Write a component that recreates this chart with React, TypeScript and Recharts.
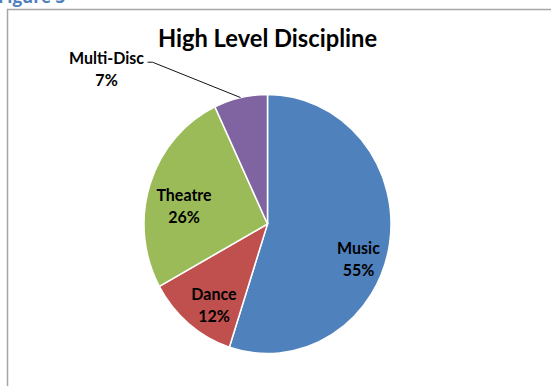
import React from "react";
import { PieChart, Pie, Cell } from "recharts";

const categories = ["Music", "Dance", "Theatre", "Multi-Disc"];
const shares = [55, 12, 26, 7];
const sliceColors = ["#4F81BD", "#C0504D", "#9BBB59", "#8064A2"];
const chartTitle = "High Level Discipline";
const figureCaption = "Figure 3";

const data = categories.map((name, i) => ({ name, value: shares[i] }));

const W = 551;
const H = 386;
const CX = 267.5;
const CY = 224;
const R = 123.5;
const STRETCH = 1.049;
const FONT = "Lato, 'Open Sans', sans-serif";
const LABEL_SIZE = 16;
const LINE_GAP = 21;

// label placement tweaks relative to polar point at 0.75 * radius
const insideOffsets: Record<string, [number, number]> = {
  Music: [-0.5, 18],
  Dance: [5.5, 5],
  Theatre: [4.6, 11],
};

const RAD = Math.PI / 180;

function renderLabel(props: any) {
  const { cx, cy, midAngle, outerRadius, name, value } = props;
  const cos = Math.cos(-midAngle * RAD);
  const sin = Math.sin(-midAngle * RAD);
  const pct = `${value}%`;
  const textProps = {
    fontFamily: FONT,
    fontWeight: 700,
    fontSize: LABEL_SIZE,
    fill: "#000",
    textAnchor: "middle" as const,
    dominantBaseline: "central" as const,
  };
  if (insideOffsets[name]) {
    const [ox, oy] = insideOffsets[name];
    const x = cx + outerRadius * 0.75 * cos + ox;
    const y = cy + outerRadius * 0.75 * sin + oy;
    return (
      <g key={name}>
        <text x={x} y={y - LINE_GAP / 2} {...textProps}>{name}</text>
        <text x={x} y={y + LINE_GAP / 2} {...textProps}>{pct}</text>
      </g>
    );
  }
  const ex = cx + outerRadius * cos;
  const ey = cy + outerRadius * sin;
  const bx = ex - 88;
  const by = ey - 33.7;
  const tx = bx - 46;
  return (
    <g key={name}>
      <polyline
        points={`${ex},${ey} ${bx},${by} ${bx - 5},${by}`}
        fill="none"
        stroke="#000"
        strokeWidth={0.9}
      />
      <text x={tx} y={by - 5} {...textProps}>{name}</text>
      <text x={tx} y={by - 5 + LINE_GAP} {...textProps}>{pct}</text>
    </g>
  );
}

export default function App() {
  return (
    <div
      style={{
        position: "fixed",
        left: 0,
        top: 0,
        width: W,
        height: H,
        overflow: "hidden",
        background: "#fff",
      }}
    >
      <svg width={W} height={H} style={{ position: "absolute", left: 0, top: 0 }}>
        <rect x={7.5} y={9.5} width={W + 20} height={H + 20} fill="none" stroke="#A6A6A6" strokeWidth={1.5} />
        <text x={-2} y={3} fontFamily="'Open Sans', sans-serif" fontWeight={700} fontSize={17} fill="#4F81BD">
          {figureCaption}
        </text>
      </svg>
      <div
        style={{
          position: "absolute",
          left: 0,
          top: 0,
          width: W,
          height: H,
          transform: `scaleY(${STRETCH})`,
          transformOrigin: `0px ${CY}px`,
        }}
      >
        <PieChart width={W} height={H} margin={{ top: 0, right: 0, bottom: 0, left: 0 }}>
          <Pie
            data={data}
            dataKey="value"
            nameKey="name"
            cx={CX}
            cy={CY}
            outerRadius={R}
            startAngle={90}
            endAngle={-270}
            stroke="#fff"
            strokeWidth={1.5}
            label={renderLabel}
            labelLine={false}
            isAnimationActive={false}
          >
            {data.map((d, i) => (
              <Cell key={d.name} fill={sliceColors[i]} />
            ))}
          </Pie>
        </PieChart>
        <svg width={W} height={H} style={{ position: "absolute", left: 0, top: 0, pointerEvents: "none" }}>
          <text
            x={CX}
            y={55}
            textAnchor="middle"
            fontFamily={FONT}
            fontWeight={700}
            fontSize={23.7}
            fill="#000"
          >
            {chartTitle}
          </text>
        </svg>
      </div>
    </div>
  );
}
